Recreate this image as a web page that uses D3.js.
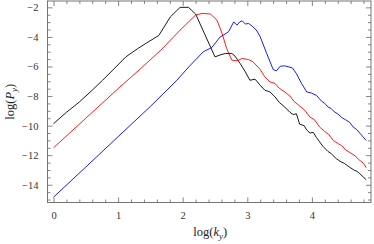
<!DOCTYPE html>
<html>
<head>
<meta charset="utf-8">
<script src="https://cdn.jsdelivr.net/npm/d3@7"></script>
<style>
  body { margin: 0; background: #fff; }
  svg { display: block; font-family: "Liberation Serif", "DejaVu Serif", serif; }
</style>
</head>
<body>
<div id="chart"></div>
<script>
// data: [log(k_y), log(P_y)]
var blackSeries = [
  [0, -9.87], [0.2, -9.1], [0.4, -8.4], [0.6, -7.6], [0.76, -6.93], [0.95, -6.1],
  [1.12, -5.35], [1.3, -4.8], [1.43, -4.44], [1.63, -3.9], [1.81, -2.64], [1.96, -2.0],
  [2.09, -2.0], [2.2, -2.45], [2.5, -5.35], [2.58, -5.22], [2.66, -5.12], [2.76, -5.12],
  [2.81, -5.3], [2.89, -5.8], [2.97, -6.37], [3.04, -6.93], [3.12, -6.86], [3.2, -7.27],
  [3.27, -7.6], [3.35, -7.72], [3.43, -8.06], [3.5, -8.45], [3.58, -8.74], [3.66, -9.1],
  [3.71, -9.25], [3.76, -9.2], [3.81, -9.9], [3.88, -10.0], [3.92, -10.3], [3.97, -10.5],
  [4.02, -10.45], [4.07, -10.8], [4.12, -11.1], [4.17, -11.4], [4.25, -11.75], [4.3, -11.9],
  [4.38, -12.24], [4.45, -12.45], [4.5, -12.55], [4.58, -12.8], [4.65, -13.0], [4.7, -13.1],
  [4.74, -13.25], [4.79, -13.45], [4.84, -13.66]
];

var redSeries = [
  [0, -11.5], [0.5, -9.5], [1.0, -7.5], [1.35, -6.14], [1.66, -4.9], [1.96, -3.54],
  [2.2, -2.52], [2.3, -2.41], [2.43, -2.45], [2.53, -2.86], [2.61, -3.76], [2.68, -4.78],
  [2.76, -5.57], [2.84, -5.62], [2.92, -5.46], [3.02, -5.53], [3.09, -5.69], [3.2, -6.2],
  [3.27, -6.7], [3.35, -7.04], [3.43, -7.15], [3.5, -7.49], [3.58, -7.72], [3.66, -8.0],
  [3.72, -8.35], [3.79, -8.6], [3.89, -8.96], [3.97, -9.42], [4.04, -9.6], [4.12, -10.1],
  [4.2, -10.4], [4.26, -10.6], [4.33, -11.0], [4.4, -11.2], [4.46, -11.35], [4.53, -11.67],
  [4.6, -11.85], [4.67, -12.05], [4.74, -12.35], [4.8, -12.55], [4.84, -12.85]
];

var blueSeries = [
  [0, -14.84], [0.5, -12.8], [1.0, -10.75], [1.5, -8.7], [1.91, -6.93], [2.1, -6.0],
  [2.32, -5.0], [2.45, -4.72], [2.58, -4.0], [2.63, -3.88], [2.71, -3.65], [2.79, -2.98],
  [2.84, -3.2], [2.88, -3.0], [2.92, -2.91], [2.97, -3.13], [3.02, -3.09], [3.09, -3.32],
  [3.15, -3.6], [3.2, -3.99], [3.3, -5.12], [3.4, -6.2], [3.45, -6.3], [3.51, -5.98],
  [3.58, -5.96], [3.66, -6.05], [3.7, -6.1], [3.76, -6.48], [3.84, -7.15], [3.92, -7.72],
  [3.99, -7.79], [4.07, -7.95], [4.15, -8.35], [4.2, -8.5], [4.25, -8.74], [4.3, -8.85],
  [4.35, -9.08], [4.4, -9.2], [4.46, -9.45], [4.52, -9.6], [4.58, -9.76], [4.64, -10.1],
  [4.69, -10.25], [4.74, -10.5], [4.79, -10.75], [4.84, -11.0]
];

var xTicks = [0, 1, 2, 3, 4];
var yTicks = [-2, -4, -6, -8, -10, -12, -14];

var svgWidth = 374, svgHeight = 244;
var frame = { left: 47.5, right: 371, top: 1, bottom: 202.5 };

var svg = d3.select("#chart").append("svg")
  .attr("width", svgWidth)
  .attr("height", svgHeight);

var x = d3.scaleLinear().domain([-0.093, 4.915]).range([frame.left, frame.right]);
var y = d3.scaleLinear().domain([-15.2, -1.57]).range([frame.bottom, frame.top]);

var xMinor = d3.range(0, 4.91, 0.2).filter(v => Math.abs(v - Math.round(v)) > 1e-6);
var yMinor = d3.range(-15, -1.5, 0.5).filter(v => Math.abs(v / 2 - Math.round(v / 2)) > 1e-6);

var frameColor = "#666";

function styleAxis(g) {
  g.attr("font-family", null).attr("font-size", null);
  g.select(".domain").remove();
  g.selectAll("line").attr("stroke", frameColor).attr("stroke-width", 0.8);
  g.selectAll("text").attr("fill", "#333").attr("font-size", "10.5px");
}

// bottom
svg.append("g").attr("transform", `translate(0,${frame.bottom})`)
  .call(d3.axisBottom(x).tickValues(xTicks).tickSizeInner(-5).tickSizeOuter(0).tickPadding(9).tickFormat(d3.format("d")))
  .call(styleAxis);
svg.append("g").attr("transform", `translate(0,${frame.bottom})`)
  .call(d3.axisBottom(x).tickValues(xMinor).tickSizeInner(-3).tickSizeOuter(0).tickFormat(""))
  .call(styleAxis);
// top
svg.append("g").attr("transform", `translate(0,${frame.top})`)
  .call(d3.axisTop(x).tickValues(xTicks).tickSizeInner(-5).tickSizeOuter(0).tickFormat(""))
  .call(styleAxis);
svg.append("g").attr("transform", `translate(0,${frame.top})`)
  .call(d3.axisTop(x).tickValues(xMinor).tickSizeInner(-3).tickSizeOuter(0).tickFormat(""))
  .call(styleAxis);
// left
svg.append("g").attr("transform", `translate(${frame.left},0)`)
  .call(d3.axisLeft(y).tickValues(yTicks).tickSizeInner(-5).tickSizeOuter(0).tickPadding(9).tickFormat(d3.format("d")))
  .call(styleAxis);
svg.append("g").attr("transform", `translate(${frame.left},0)`)
  .call(d3.axisLeft(y).tickValues(yMinor).tickSizeInner(-3).tickSizeOuter(0).tickFormat(""))
  .call(styleAxis);
// right
svg.append("g").attr("transform", `translate(${frame.right},0)`)
  .call(d3.axisRight(y).tickValues(yTicks).tickSizeInner(-5).tickSizeOuter(0).tickFormat(""))
  .call(styleAxis);
svg.append("g").attr("transform", `translate(${frame.right},0)`)
  .call(d3.axisRight(y).tickValues(yMinor).tickSizeInner(-3).tickSizeOuter(0).tickFormat(""))
  .call(styleAxis);

svg.append("rect")
  .attr("x", frame.left).attr("y", frame.top)
  .attr("width", frame.right - frame.left).attr("height", frame.bottom - frame.top)
  .attr("fill", "none").attr("stroke", frameColor).attr("stroke-width", 0.9);

var line = d3.line().x(d => x(d[0])).y(d => y(d[1]));

var series = [
  { data: blackSeries, color: "#000000" },
  { data: redSeries, color: "#ff0000" },
  { data: blueSeries, color: "#0000ff" }
];

svg.selectAll(".curve")
  .data(series)
  .enter()
  .append("path")
  .attr("class", "curve")
  .attr("d", d => line(d.data))
  .attr("fill", "none")
  .attr("stroke", d => d.color)
  .attr("stroke-width", 0.9)
  .attr("stroke-linejoin", "round");

// axis titles
var xLabel = svg.append("text")
  .attr("x", (frame.left + frame.right) / 2 + 1)
  .attr("y", 236)
  .attr("text-anchor", "middle")
  .attr("font-size", "12.5px")
  .attr("fill", "#222");
xLabel.append("tspan").text("log(");
xLabel.append("tspan").attr("font-style", "italic").text("k");
xLabel.append("tspan").attr("font-style", "italic").attr("font-size", "9px").attr("dy", 3).text("y");
xLabel.append("tspan").attr("dy", -3).text(")");

var yLabel = svg.append("text")
  .attr("transform", `translate(14,${(frame.top + frame.bottom) / 2}) rotate(-90)`)
  .attr("text-anchor", "middle")
  .attr("font-size", "12.5px")
  .attr("fill", "#222");
yLabel.append("tspan").text("log(");
yLabel.append("tspan").attr("font-style", "italic").text("P");
yLabel.append("tspan").attr("font-style", "italic").attr("font-size", "9px").attr("dy", 3).text("y");
yLabel.append("tspan").attr("dy", -3).text(")");
</script>
</body>
</html>
